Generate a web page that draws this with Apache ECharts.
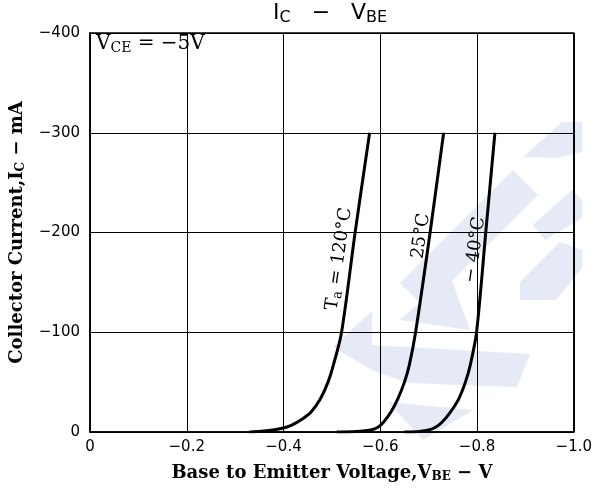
<!DOCTYPE html>
<html>
<head>
<meta charset="utf-8">
<script src="https://cdn.jsdelivr.net/npm/echarts@6/dist/echarts.min.js"></script>
<style>html,body{margin:0;padding:0;background:#fff}#c{width:595px;height:488px}</style>
</head>
<body>
<div id="c"></div>
<script>
// Data (V_BE in volts, I_C in mA)
const xTicks = [0, -0.2, -0.4, -0.6, -0.8, -1.0];
const yTicks = [0, -100, -200, -300, -400];
const t120V = [-0.33, -0.36, -0.39, -0.415, -0.439, -0.457, -0.476, -0.492, -0.503, -0.520, -0.548, -0.578];
const t120I = [0, -1, -3, -6.5, -13, -20, -33, -50, -67, -100, -200, -300];
const t25V = [-0.51, -0.55, -0.58, -0.596, -0.607, -0.622, -0.636, -0.650, -0.660, -0.673, -0.703, -0.731];
const t25I = [0, -0.5, -2, -5, -10, -20, -33, -50, -67, -100, -200, -300];
const t40V = [-0.65, -0.68, -0.70, -0.715, -0.728, -0.745, -0.762, -0.776, -0.786, -0.799, -0.818, -0.837];
const t40I = [0, -0.5, -2, -5, -10, -20, -33, -50, -67, -100, -200, -300];
const seriesNames = ['120°C', '25°C', '-40°C'];

const pairs = (xs, ys) => xs.map((v, i) => [v, ys[i]]);
const fmtX = v => v === 0 ? '0' : '\u2212' + Math.abs(v).toFixed(1);
const fmtY = v => v === 0 ? '0' : '\u2212' + Math.abs(v);

const chart = echarts.init(document.getElementById('c'));
const lineStyle = {color: '#000', width: 3};
const mk = (name, data) => ({
  type: 'line', name, data, smooth: 0.3, showSymbol: false, symbol: 'none',
  lineStyle, z: 5, silent: true
});
const serif = '"DejaVu Serif", "Liberation Serif", serif';
const sans = '"DejaVu Sans", "Liberation Sans", sans-serif';
const wm = '#e5eaf6';

chart.setOption({
  animation: false,
  backgroundColor: '#fff',
  grid: {left: 90, top: 33, right: 15, bottom: 55, show: true, borderColor: '#000', borderWidth: 1.5},
  xAxis: {
    type: 'value', min: -1, max: 0, interval: 0.2, inverse: true,
    axisLine: {show: true, lineStyle: {color: '#000', width: 1.5}},
    axisTick: {show: false},
    splitLine: {show: true, lineStyle: {color: '#000', width: 1}},
    axisLabel: {formatter: fmtX, color: '#000', fontFamily: sans, fontSize: 15, margin: 8},
    name: 'Base to Emitter Voltage,V{s|BE} \u2212 V',
    nameLocation: 'middle', nameGap: 31,
    nameTextStyle: {color: '#000', fontFamily: serif, fontWeight: 'bold', fontSize: 18,
      rich: {s: {fontFamily: serif, fontWeight: 'bold', fontSize: 12, padding: [8, 0, 0, 0]}}}
  },
  yAxis: {
    type: 'value', min: -400, max: 0, interval: 100, inverse: true,
    axisLine: {show: true, lineStyle: {color: '#000', width: 1.5}},
    axisTick: {show: false},
    splitLine: {show: true, lineStyle: {color: '#000', width: 1}},
    axisLabel: {formatter: fmtY, color: '#000', fontFamily: sans, fontSize: 15, margin: 10},
    name: 'Collector Current,I{s|C} \u2212 mA',
    nameLocation: 'middle', nameGap: 63, nameRotate: 90,
    nameTextStyle: {color: '#000', fontFamily: serif, fontWeight: 'bold', fontSize: 18,
      rich: {s: {fontFamily: serif, fontWeight: 'bold', fontSize: 12, padding: [8, 0, 0, 0]}}}
  },
  graphic: [
    {type: 'polygon', z: -10, shape: {points: [[400, 283], [513, 170], [538, 195], [425, 308]]}, style: {fill: wm}},
    {type: 'polygon', z: -10, shape: {points: [[523, 157], [562, 122], [582, 122], [582, 152], [556, 158]]}, style: {fill: wm}},
    {type: 'polygon', z: -10, shape: {points: [[333, 347], [372, 311], [372, 345], [530, 354], [517, 387], [408, 383], [372, 370]]}, style: {fill: wm}},
    {type: 'polygon', z: -10, shape: {points: [[388, 402], [473, 410], [423, 440]]}, style: {fill: wm}},
    {type: 'polygon', z: -10, shape: {points: [[520, 282], [560, 242], [582, 250], [582, 268], [556, 300], [520, 300]]}, style: {fill: wm}},
    {type: 'polygon', z: -10, shape: {points: [[533, 225], [572, 190], [582, 200], [582, 218], [545, 240]]}, style: {fill: wm}},
    {type: 'polygon', z: -10, shape: {points: [[400, 320], [450, 275], [470, 330]]}, style: {fill: wm}},
    {type: 'text', left: 273, top: 2, z: 10, style: {text: 'I{s|C}   \u2212   V{s|BE}', fill: '#000', font: '22px ' + sans,
      rich: {s: {fontFamily: sans, fontSize: 16, padding: [9, 0, 0, 0]}}}},
    {type: 'text', left: 96, top: 34, z: 10, style: {text: 'V{s|CE} = \u22125V', fill: '#000', font: '20px ' + serif,
      rich: {s: {fontFamily: serif, fontSize: 14, padding: [9, 0, 0, 0]}}}},
    {type: 'text', x: 339, y: 259, rotation: 82 * Math.PI / 180, z: 10,
      style: {text: 'T{s|a} = 120°C', fill: '#000', font: '18px ' + serif, align: 'center', verticalAlign: 'middle',
        rich: {s: {fontFamily: serif, fontSize: 13, padding: [8, 0, 0, 0]}}}},
    {type: 'text', x: 421, y: 236, rotation: 82 * Math.PI / 180, z: 10,
      style: {text: '25°C', fill: '#000', font: '18px ' + serif, align: 'center', verticalAlign: 'middle'}},
    {type: 'text', x: 475, y: 250, rotation: 82 * Math.PI / 180, z: 10,
      style: {text: '\u2212 40°C', fill: '#000', font: '18px ' + serif, align: 'center', verticalAlign: 'middle'}}
  ],
  series: [
    mk(seriesNames[0], pairs(t120V, t120I)),
    mk(seriesNames[1], pairs(t25V, t25I)),
    mk(seriesNames[2], pairs(t40V, t40I))
  ]
});
</script>
</body>
</html>
